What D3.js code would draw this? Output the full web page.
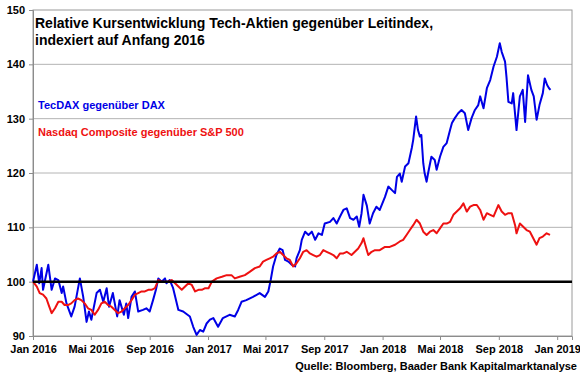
<!DOCTYPE html>
<html>
<head>
<meta charset="utf-8">
<script src="https://cdn.jsdelivr.net/npm/d3@7"></script>
<style>
  body { margin: 0; background: #fff; }
  svg { display: block; font-family: Arial, "Liberation Sans", sans-serif; }
</style>
</head>
<body>
<div id="chart"></div>
<script>
// values
const titleLines = ["Relative Kursentwicklung Tech-Aktien gegenüber Leitindex,", "indexiert auf Anfang 2016"]
const seriesNames = ["TecDAX gegenüber DAX", "Nasdaq Composite gegenüber S&P 500"]
const sourceText = "Quelle: Bloomberg, Baader Bank Kapitalmarktanalyse"

const yTicks = [90, 100, 110, 120, 130, 140, 150]
const xTickDates = ["2016-01-01","2016-05-01","2016-09-01","2017-01-01","2017-05-01","2017-09-01","2018-01-01","2018-05-01","2018-09-01","2019-01-01"]
const xTickLabels = ["Jan 2016","Mai 2016","Sep 2016","Jan 2017","Mai 2017","Sep 2017","Jan 2018","Mai 2018","Sep 2018","Jan 2019"]
const baseLevel = 100

const tecdaxDates = ["2016-01-01","2016-01-09","2016-01-14","2016-01-19","2016-01-22","2016-02-02","2016-02-09","2016-02-16","2016-02-23","2016-03-01","2016-03-04","2016-03-11","2016-03-21","2016-03-28","2016-04-08","2016-04-15","2016-04-22","2016-04-27","2016-05-02","2016-05-13","2016-05-20","2016-05-27","2016-06-03","2016-06-08","2016-06-16","2016-06-25","2016-06-30","2016-07-09","2016-07-14","2016-07-18","2016-07-25","2016-08-01","2016-08-08","2016-08-18","2016-08-25","2016-09-01","2016-09-08","2016-09-14","2016-09-19","2016-09-26","2016-10-03","2016-10-06","2016-10-13","2016-10-20","2016-10-31","2016-11-10","2016-11-24","2016-12-01","2016-12-08","2016-12-15","2016-12-22","2016-12-29",
  "2017-01-05","2017-01-12","2017-01-22","2017-02-01","2017-02-15","2017-02-26","2017-03-05","2017-03-12","2017-03-22","2017-04-05","2017-04-19","2017-04-30","2017-05-07","2017-05-12","2017-05-17","2017-05-24","2017-05-31","2017-06-06","2017-06-11","2017-06-18","2017-06-25","2017-07-02","2017-07-05","2017-07-12","2017-07-16","2017-07-23","2017-07-30","2017-08-06","2017-08-13","2017-08-20","2017-08-27","2017-09-02","2017-09-13","2017-09-20","2017-09-27","2017-10-04","2017-10-11","2017-10-18","2017-10-25","2017-11-01","2017-11-08","2017-11-13","2017-11-18","2017-11-22","2017-11-29","2017-12-05","2017-12-12","2017-12-19","2017-12-26",
  "2018-01-06","2018-01-13","2018-01-20","2018-01-27","2018-01-31","2018-02-06","2018-02-10","2018-02-17","2018-02-24","2018-02-27","2018-03-03","2018-03-06","2018-03-12","2018-03-16","2018-03-20","2018-03-23","2018-03-27","2018-03-30","2018-04-03","2018-04-06","2018-04-13","2018-04-20","2018-04-24","2018-05-01","2018-05-08","2018-05-15","2018-05-22","2018-05-26","2018-06-01","2018-06-08","2018-06-15","2018-06-22","2018-06-29","2018-07-06","2018-07-13","2018-07-20","2018-07-24","2018-07-31","2018-08-07","2018-08-14","2018-08-21","2018-08-28","2018-09-03","2018-09-07","2018-09-14","2018-09-17","2018-09-21","2018-09-28","2018-10-01","2018-10-08","2018-10-15","2018-10-21","2018-10-26","2018-11-01","2018-11-08","2018-11-13","2018-11-19","2018-11-25","2018-12-02","2018-12-06","2018-12-11","2018-12-15","2018-12-18"]
const tecdaxValues = [100,103.1,99.7,102.5,98.5,103.1,98.5,100.6,100.3,97.9,99.1,96.0,93.6,95.4,100.6,97.2,92.6,94.5,93.0,97.9,98.5,96.3,98.8,95.4,97.9,93.6,96.6,93.9,96.0,93.3,97.2,98.2,94.5,94.8,95.1,94.5,96.6,98.5,100.6,100.0,100.6,99.7,100.3,98.8,94.8,94.5,93.6,91.7,90.2,91.1,90.8,92.3,
  93.0,93.3,91.7,93.3,93.9,93.6,94.8,96.3,96.6,97.2,97.9,97.2,98.2,100.3,102.8,104.9,106.1,105.8,104.0,103.7,103.1,102.8,104.3,105.8,107.7,109.2,108.6,109.2,107.7,108.9,108.6,110.7,111.0,111.7,110.7,112.0,113.2,113.5,111.7,111.4,112.0,110.1,112.6,116.0,114.0,110.7,112.6,113.8,113.2,
  115.6,117.5,116.9,116.3,119.3,119.9,118.4,121.2,121.8,123.0,124.6,126.1,130.4,127.9,126.7,127.0,121.8,119.9,118.4,119.9,123.0,122.4,120.6,123.0,124.8,125.5,127.9,129.2,130.1,131.0,131.6,131.0,127.9,130.1,131.6,132.5,134.1,131.9,135.6,137.1,139.6,141.4,143.9,142.3,140.5,137.7,133.1,132.8,134.7,127.9,134.1,135.3,129.4,138.0,135.3,134.1,129.8,132.5,134.7,137.4,136.2,135.6,135.3]

const nasdaqDates = ["2016-01-01","2016-01-09","2016-01-15","2016-01-22","2016-01-29","2016-02-04","2016-02-09","2016-02-16","2016-02-23","2016-03-01","2016-03-07","2016-03-14","2016-03-21","2016-03-28","2016-04-04","2016-04-11","2016-04-18","2016-04-25","2016-05-02","2016-05-09","2016-05-16","2016-05-23","2016-05-30","2016-06-06","2016-06-13","2016-06-20","2016-06-27","2016-07-04","2016-07-11","2016-07-18","2016-07-25","2016-08-01","2016-08-08","2016-08-15","2016-08-22","2016-08-29","2016-09-05","2016-09-12","2016-09-19","2016-09-26","2016-10-03","2016-10-10","2016-10-17","2016-10-24","2016-10-31","2016-11-07","2016-11-14","2016-11-21","2016-11-28","2016-12-05","2016-12-12","2016-12-19","2016-12-26",
  "2017-01-02","2017-01-09","2017-01-19","2017-01-30","2017-02-09","2017-02-19","2017-02-26","2017-03-08","2017-03-19","2017-03-29","2017-04-09","2017-04-19","2017-04-26","2017-05-03","2017-05-10","2017-05-17","2017-05-24","2017-05-31","2017-06-07","2017-06-14","2017-06-21","2017-06-28","2017-07-05","2017-07-12","2017-07-19","2017-07-26","2017-08-02","2017-08-09","2017-08-16","2017-08-23","2017-08-30","2017-09-06","2017-09-13","2017-09-20","2017-09-27","2017-10-04","2017-10-11","2017-10-18","2017-10-28","2017-11-04","2017-11-11","2017-11-18","2017-11-22","2017-11-29","2017-12-02","2017-12-09","2017-12-16","2017-12-26",
  "2018-01-06","2018-01-16","2018-01-27","2018-02-06","2018-02-13","2018-02-20","2018-02-27","2018-03-06","2018-03-13","2018-03-20","2018-03-27","2018-04-03","2018-04-10","2018-04-17","2018-04-24","2018-05-01","2018-05-08","2018-05-15","2018-05-22","2018-05-29","2018-06-05","2018-06-12","2018-06-19","2018-06-26","2018-07-03","2018-07-10","2018-07-17","2018-07-24","2018-07-31","2018-08-07","2018-08-14","2018-08-21","2018-08-31","2018-09-07","2018-09-14","2018-09-21","2018-09-28","2018-10-05","2018-10-08","2018-10-15","2018-10-22","2018-10-29","2018-11-05","2018-11-12","2018-11-19","2018-11-25","2018-12-02","2018-12-10","2018-12-17"]
const nasdaqValues = [100,99.1,97.9,97.6,96.9,95.4,94.2,95.1,96.3,96.3,95.7,95.7,96.0,96.6,96.9,96.6,96.0,95.1,94.8,93.9,94.8,96.0,96.3,95.7,95.4,94.8,94.2,94.5,95.1,95.7,96.6,97.6,97.9,98.2,98.2,98.5,98.5,98.8,100.3,100.0,100.0,100.0,100.3,99.7,99.1,98.5,99.1,99.7,99.4,98.2,98.5,98.5,98.8,
  98.8,100.0,100.6,100.9,101.2,101.2,100.6,100.9,101.2,101.8,102.5,102.8,103.7,104.0,104.3,104.6,105.2,105.5,104.9,104.3,104.0,102.8,103.4,104.3,105.5,105.8,105.2,104.9,104.6,104.9,105.8,105.5,105.2,104.9,104.3,105.2,105.2,105.5,104.9,105.5,106.1,107.1,108.0,105.8,104.9,105.5,105.8,105.8,
  106.4,106.4,106.8,107.4,107.7,108.6,109.5,110.4,111.4,110.7,109.2,108.6,109.2,109.5,108.9,109.8,110.7,110.7,111.0,112.3,112.9,113.5,114.4,112.9,113.8,114.1,114.1,113.2,111.4,112.6,112.3,112.0,114.1,112.9,112.3,112.6,112.6,110.4,108.9,110.7,110.1,109.5,109.2,108.0,106.8,108.0,108.3,108.9,108.6]

const width = 580, height = 375
const plot = {left: 33, right: 572, top: 10, bottom: 336}
const parseDate = d3.timeParse("%Y-%m-%d")

const svg = d3.select("#chart")
  .append("svg")
    .attr("width", width)
    .attr("height", height)

const x = d3.scaleTime()
  .domain([parseDate("2016-01-01"), parseDate("2019-02-01")])
  .range([plot.left, plot.right])

const y = d3.scaleLinear()
  .domain([90, 150])
  .range([plot.bottom, plot.top])

// gridlines
svg.append("g")
  .selectAll("line")
  .data(yTicks.filter(v => v > 90 && v < 150 && v != baseLevel))
  .join("line")
    .attr("x1", plot.left)
    .attr("x2", plot.right)
    .attr("y1", d => y(d))
    .attr("y2", d => y(d))
    .attr("stroke", "#b4b4b4")
    .attr("stroke-width", 1)

// plot frame
svg.append("rect")
  .attr("x", plot.left)
  .attr("y", plot.top)
  .attr("width", plot.right - plot.left)
  .attr("height", plot.bottom - plot.top)
  .attr("fill", "none")
  .attr("stroke", "#9a9a9a")
  .attr("stroke-width", 1)

// axes
const yAxis = svg.append("g")
  .attr("transform", `translate(${plot.left},0)`)
  .call(d3.axisLeft(y).tickValues(yTicks).tickSize(4).tickPadding(4).tickFormat(d3.format("d")))
const xAxis = svg.append("g")
  .attr("transform", `translate(0,${plot.bottom})`)
  .call(d3.axisBottom(x).tickValues(xTickDates.map(parseDate)).tickSize(4).tickPadding(5)
    .tickFormat((d, i) => xTickLabels[i]))

svg.selectAll(".domain, .tick line").attr("stroke", "#8c8c8c")
svg.selectAll(".tick text")
  .attr("font-family", "Arial, 'Liberation Sans', sans-serif")
  .attr("font-size", 11)
  .attr("font-weight", "bold")
  .attr("fill", "#000")

const line = d3.line()
  .x(d => x(d.date))
  .y(d => y(d.value))

const tecdax = tecdaxDates.map((d, i) => ({date: parseDate(d), value: tecdaxValues[i]}))
const nasdaq = nasdaqDates.map((d, i) => ({date: parseDate(d), value: nasdaqValues[i]}))

svg.append("path")
  .datum(tecdax)
  .attr("d", line)
  .attr("fill", "none")
  .attr("stroke", "#0000e6")
  .attr("stroke-width", 2)
  .attr("stroke-linejoin", "round")

svg.append("path")
  .datum(nasdaq)
  .attr("d", line)
  .attr("fill", "none")
  .attr("stroke", "#ee1111")
  .attr("stroke-width", 2)
  .attr("stroke-linejoin", "round")

// 100 line
svg.append("line")
  .attr("x1", plot.left)
  .attr("x2", plot.right)
  .attr("y1", y(baseLevel))
  .attr("y2", y(baseLevel))
  .attr("stroke", "#000")
  .attr("stroke-width", 2.5)

// title
svg.append("g")
  .selectAll("text")
  .data(titleLines)
  .join("text")
    .attr("x", 35)
    .attr("y", (d, i) => 28 + i * 17)
    .attr("font-size", 14)
    .attr("font-weight", "bold")
    .text(d => d)

// legend labels
const legendColors = ["#0000e6", "#ee1111"]
svg.append("g")
  .selectAll("text")
  .data(seriesNames)
  .join("text")
    .attr("x", 38)
    .attr("y", (d, i) => 109 + i * 27)
    .attr("font-size", 11)
    .attr("font-weight", "bold")
    .attr("fill", (d, i) => legendColors[i])
    .text(d => d)

svg.append("text")
  .attr("x", 577)
  .attr("y", 370)
  .attr("text-anchor", "end")
  .attr("font-size", 11)
  .attr("font-weight", "bold")
  .text(sourceText)
</script>
</body>
</html>
